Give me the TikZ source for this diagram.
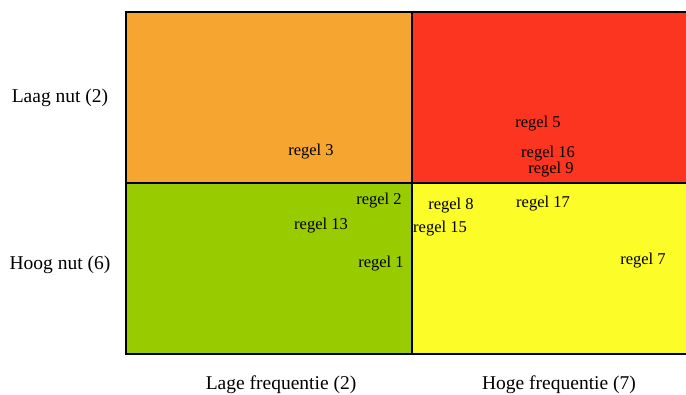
\documentclass[tikz,border=0pt]{standalone}
\usepackage{fontspec}
\setmainfont{Liberation Serif}
\definecolor{qorange}{HTML}{F5A530}
\definecolor{qred}{HTML}{FC3520}
\definecolor{qgreen}{HTML}{99CC00}
\definecolor{qyellow}{HTML}{FCFC28}
\tikzset{
  quad/.style={draw=black, line width=1.2pt},
  rule/.style={inner sep=0pt, font=\fontsize{16.5}{19}\selectfont},
  axislabel/.style={inner sep=0pt, font=\fontsize{19.5}{23}\selectfont}
}
\begin{document}
\begin{tikzpicture}[x=1pt,y=-1pt]
\useasboundingbox (0,0) rectangle (686,394);
\clip (0,0) rectangle (686,394);
\fill[qorange] (126,12) rectangle (412,183);
\fill[qred] (412,12) rectangle (720,183);
\fill[qgreen] (126,183) rectangle (412,354);
\fill[qyellow] (412,183) rectangle (720,354);
\draw[quad] (412,12) -- (412,354);
\draw[quad] (126,183) -- (720,183);
\draw[black, line width=2pt] (720,12) -- (126,12) -- (126,354) -- (720,354);

\node[axislabel] (lnut) at (60,98) {Laag nut (2)};
\node[axislabel] (hnut) at (60,265) {Hoog nut (6)};
\node[axislabel] (lfreq) at (281,385) {Lage frequentie (2)};
\node[axislabel] (hfreq) at (559,385) {Hoge frequentie (7)};

\node[rule] (r3) at (311,152) {regel 3};
\node[rule] (r5) at (538,124) {regel 5};
\node[rule] (r16) at (548,154) {regel 16};
\node[rule] (r9) at (551,170) {regel 9};
\node[rule] (r2) at (379,201) {regel 2};
\node[rule] (r8) at (451,206) {regel 8};
\node[rule] (r17) at (543,204) {regel 17};
\node[rule] (r13) at (321,226) {regel 13};
\node[rule] (r15) at (440,229) {regel 15};
\node[rule] (r1) at (381,264) {regel 1};
\node[rule] (r7) at (643,261) {regel 7};
\end{tikzpicture}
\end{document}
